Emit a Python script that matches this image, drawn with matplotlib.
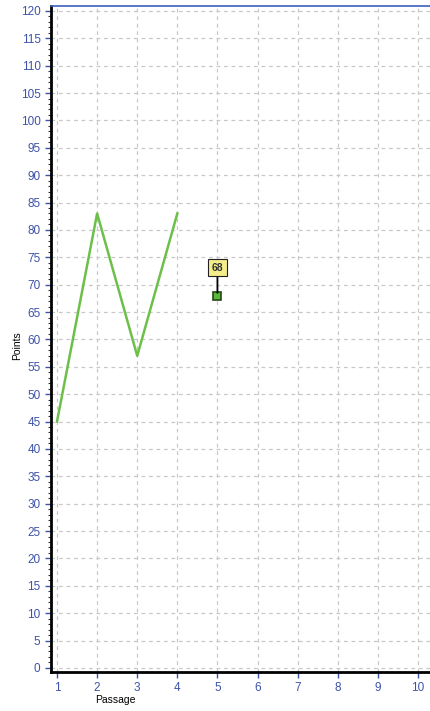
import matplotlib
matplotlib.use("Agg")
import matplotlib.pyplot as plt
from matplotlib.ticker import MultipleLocator

plt.rcParams['font.family'] = ['Liberation Sans', 'DejaVu Sans']

passages = [1, 2, 3, 4]
points = [45, 83, 57, 83]
single_x = [5]
single_y = [68]
x_ticks = list(range(1, 11))
y_ticks = list(range(0, 121, 5))

tick_color = '#3d52a8'

fig = plt.figure(figsize=(4.30, 7.11), dpi=100)
ax = fig.add_axes([51/430, 39/711, 379/430, 666/711])

ax.plot(passages, points, color='#6cc04a', lw=1.8, zorder=3)
ax.plot(single_x, single_y, marker='s', ms=6, mfc='#5cb83c', mec='#1f4a12', mew=1.2,
        ls='none', zorder=4)
for xv, yv in zip(single_x, single_y):
    ax.annotate(f"{yv}", xy=(xv, yv), xytext=(0, 20), textcoords='offset points',
                ha='center', va='center', fontsize=7.5, fontweight='bold', color='#333333',
                bbox=dict(boxstyle='square,pad=0.35', fc='#f4ee8a', ec='#222222', lw=0.8),
                arrowprops=dict(arrowstyle='-', color='#000000', lw=1.3, shrinkA=0, shrinkB=2),
                zorder=5)

ax.set_xlim(0.85, 10.3)
ax.set_ylim(-0.75, 120.9)
ax.set_xticks(x_ticks)
ax.set_yticks(y_ticks)
ax.yaxis.set_minor_locator(MultipleLocator(1))

ax.grid(True, which='major', ls=(0, (3, 3)), color='#c8c8c8', lw=0.9)
ax.set_axisbelow(True)

ax.tick_params(axis='both', which='major', colors=tick_color, labelsize=8.5, length=4, width=1)
ax.tick_params(axis='y', which='minor', color='#333355', length=2, width=0.8)

ax.spines['left'].set_color('black')
ax.spines['left'].set_linewidth(2)
ax.spines['bottom'].set_color('black')
ax.spines['bottom'].set_linewidth(2)
ax.spines['top'].set_color('#3d5fc0')
ax.spines['top'].set_linewidth(1.2)
ax.spines['right'].set_visible(False)

ax.set_xlabel('Passage', fontsize=7.5)
ax.set_ylabel('Points', fontsize=7.5)
ax.xaxis.set_label_coords(0.171, -0.035)
ax.yaxis.set_label_coords(-0.075, 0.49)

fig.savefig('out.png', dpi=100)
